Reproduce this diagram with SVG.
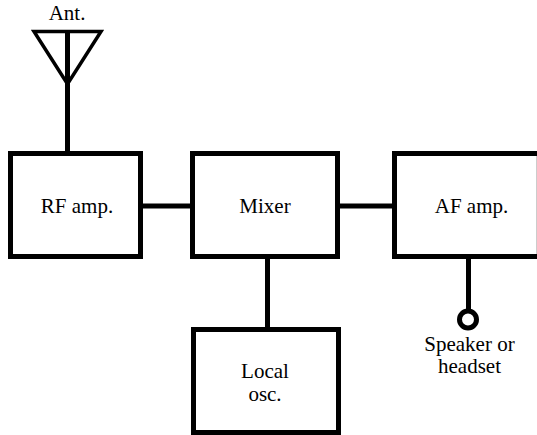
<svg xmlns="http://www.w3.org/2000/svg" width="537" height="435" viewBox="0 0 537 435">
<style>
.b{fill:#fff;stroke:#000;stroke-width:5}
.c{fill:none;stroke:#000;stroke-width:5}
.t{fill:none;stroke:#000;stroke-width:3.5;stroke-linejoin:miter}
text{font-family:"Liberation Serif","Times New Roman",serif;font-size:21px;fill:#000;text-anchor:middle}
</style>
<rect width="537" height="435" fill="#fff"/>
<g id="connectors">
<path class="c" d="M67.500 31V153"/>
<path class="c" d="M141 206H193"/>
<path class="c" d="M338 206H395"/>
<path class="c" d="M267.500 256V330"/>
<path class="c" d="M468.500 256V311"/>
</g>
<g id="antenna"><path class="t" d="M34 31.500H101L67.500 84Z"/><text x="67" y="20">Ant.</text></g>
<g id="rf"><rect class="b" x="10.500" y="153.500" width="130" height="103"/><text x="77" y="213">RF amp.</text></g>
<g id="mixer"><rect class="b" x="192.500" y="153.500" width="145" height="103"/><text x="265" y="213">Mixer</text></g>
<g id="af"><rect class="b" x="394.500" y="153.500" width="150" height="103"/><path d="M536.500 156V254" stroke="#ccc" fill="none"/><text x="471.500" y="213">AF amp.</text></g>
<g id="osc"><rect class="b" x="193.500" y="329.500" width="145" height="103"/><text x="265" y="378">Local</text><text x="265" y="401">osc.</text></g>
<g id="speaker"><circle class="b" cx="468" cy="319.500" r="8.500"/><text x="469.500" y="351">Speaker or</text><text x="469.500" y="373">headset</text></g>
</svg>
